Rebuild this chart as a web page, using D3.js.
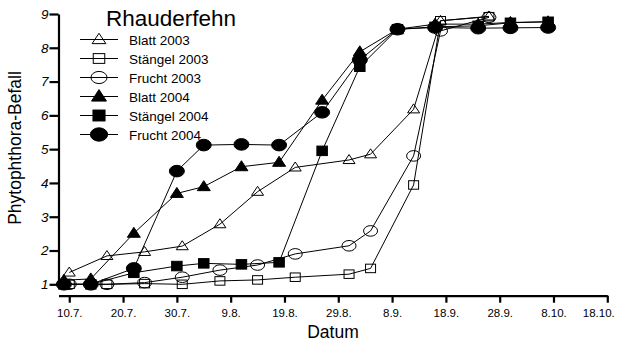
<!DOCTYPE html>
<html>
<head>
<meta charset="utf-8">
<script src="https://cdn.jsdelivr.net/npm/d3@7/dist/d3.min.js"></script>
<style>
  body { margin: 0; background: #fff; }
  svg text { font-family: "Liberation Sans", Arial, sans-serif; fill: #000; }
</style>
</head>
<body>
<div id="chart"></div>
<script>
// Sampling dates (both seasons shown on one calendar)
var dates2003 = ["10.7.", "17.7.", "24.7.", "31.7.", "7.8.", "14.8.", "21.8.", "31.8.", "4.9.", "12.9.", "17.9.", "26.9."];
var dates2004 = ["9.7.", "14.7.", "22.7.", "30.7.", "4.8.", "11.8.", "18.8.", "26.8.", "2.9.", "9.9.", "16.9.", "24.9.", "30.9.", "7.10."];

var blatt2003    = [1.35, 1.84, 1.96, 2.13, 2.78, 3.74, 4.46, 4.68, 4.85, 6.18, 8.80, 8.93];
var staengel2003 = [1.00, 1.00, 1.02, 1.00, 1.10, 1.13, 1.21, 1.30, 1.47, 3.94, 8.80, 8.92];
var frucht2003   = [1.00, 1.00, 1.05, 1.21, 1.42, 1.57, 1.90, 2.14, 2.58, 4.80, 8.50, 8.90];

var blatt2004    = [1.12, 1.16, 2.51, 3.69, 3.89, 4.48, 4.61, 6.45, 7.88, 8.55, 8.70, 8.70, 8.75, 8.77];
var staengel2004 = [1.00, 1.00, 1.34, 1.54, 1.62, 1.59, 1.65, 4.95, 7.44, 8.55, 8.62, 8.65, 8.74, 8.77];
var frucht2004   = [1.00, 1.00, 1.47, 4.35, 5.12, 5.14, 5.12, 6.09, 7.64, 8.55, 8.60, 8.58, 8.59, 8.60];

var xTickLabels = ["10.7.", "20.7.", "30.7.", "9.8.", "19.8.", "29.8.", "8.9.", "18.9.", "28.9.", "8.10.", "18.10."];
var yTicks = [1, 2, 3, 4, 5, 6, 7, 8, 9];

var seriesNames = ["Blatt 2003", "Stängel 2003", "Frucht 2003", "Blatt 2004", "Stängel 2004", "Frucht 2004"];

var parseDay = function(s) { return d3.utcParse("%d.%m.%Y")(s + "2004"); };

var W = 617, H = 341;
var svg = d3.select("#chart").append("svg")
    .attr("width", W)
    .attr("height", H);

var xScale = d3.scaleUtc()
    .domain([parseDay("8.7."), parseDay("18.10.")])
    .range([58.5, 607.3]);

var yScale = d3.scaleLinear()
    .domain([1, 9])
    .range([284.3, 14]);

// x axis (offset below the plot)
var xAxis = d3.axisBottom(xScale)
    .tickValues(xTickLabels.map(parseDay))
    .tickFormat(function(d, i) { return xTickLabels[i]; })
    .tickSize(7)
    .tickSizeOuter(0)
    .tickPadding(6);

var gx = svg.append("g")
    .attr("transform", "translate(0," + 295.7 + ")")
    .call(xAxis);
gx.selectAll("path, line").attr("stroke", "#000").attr("stroke-width", 2.2);
gx.selectAll("text").attr("font-size", "11.5px").attr("font-family", "Liberation Sans, Arial, sans-serif");
// last label is pulled in so it stays inside the picture
gx.selectAll(".tick text").filter(function(d, i) { return i === xTickLabels.length - 1; })
    .attr("dx", -9);

var yAxis = d3.axisLeft(yScale)
    .tickValues(yTicks)
    .tickFormat(d3.format("d"))
    .tickSize(9)
    .tickSizeOuter(0)
    .tickPadding(1);

var gy = svg.append("g")
    .attr("transform", "translate(58.5,0)")
    .call(yAxis);
gy.selectAll("path, line").attr("stroke", "#000").attr("stroke-width", 2.2);
gy.selectAll("text").attr("font-size", "13.5px").attr("font-style", "italic")
    .attr("font-family", "Liberation Sans, Arial, sans-serif");

// axis titles
svg.append("text")
    .attr("x", 333)
    .attr("y", 338)
    .attr("text-anchor", "middle")
    .attr("font-size", "17.5px")
    .text("Datum");

svg.append("text")
    .attr("transform", "translate(21,148) rotate(-90)")
    .attr("text-anchor", "middle")
    .attr("font-size", "17.5px")
    .text("Phytophthora-Befall");

// marker drawing
function drawMarker(g, shape, filled, cx, cy, k) {
    k = k || 1;
    var fill = filled ? "#000" : "none";
    if (shape === "tri") {
        var w = (filled ? 6.5 : 6) * k, h = (filled ? 10 : 9) * k;
        g.append("path")
            .attr("d", "M" + cx + "," + (cy - h * 0.6) + "L" + (cx + w) + "," + (cy + h * 0.4) +
                  "L" + (cx - w) + "," + (cy + h * 0.4) + "Z")
            .attr("fill", fill).attr("stroke", "#000").attr("stroke-width", 1);
    } else if (shape === "sq") {
        var sw = (filled ? 10.5 : 10) * k, sh = (filled ? 9.5 : 8.5) * k;
        g.append("rect")
            .attr("x", cx - sw / 2).attr("y", cy - sh / 2)
            .attr("width", sw).attr("height", sh)
            .attr("fill", fill).attr("stroke", "#000").attr("stroke-width", 1);
    } else {
        g.append("ellipse")
            .attr("cx", cx).attr("cy", cy)
            .attr("rx", (filled ? 7.5 : 7) * k).attr("ry", (filled ? 5.8 : 5.3) * k)
            .attr("fill", fill).attr("stroke", "#000").attr("stroke-width", 1);
    }
}

var series = [
    { name: seriesNames[0], dates: dates2003, vals: blatt2003, shape: "tri", filled: false },
    { name: seriesNames[1], dates: dates2003, vals: staengel2003, shape: "sq", filled: false },
    { name: seriesNames[2], dates: dates2003, vals: frucht2003, shape: "circ", filled: false },
    { name: seriesNames[3], dates: dates2004, vals: blatt2004, shape: "tri", filled: true },
    { name: seriesNames[4], dates: dates2004, vals: staengel2004, shape: "sq", filled: true },
    { name: seriesNames[5], dates: dates2004, vals: frucht2004, shape: "circ", filled: true }
];

var line = d3.line()
    .x(function(p) { return xScale(parseDay(p[0])); })
    .y(function(p) { return yScale(p[1]); });

var plot = svg.append("g").attr("class", "plot");

series.forEach(function(s) {
    var pts = d3.zip(s.dates, s.vals);
    var g = plot.append("g");
    g.append("path")
        .attr("d", line(pts))
        .attr("fill", "none")
        .attr("stroke", "#000")
        .attr("stroke-width", 1);
    pts.forEach(function(p) {
        drawMarker(g, s.shape, s.filled, xScale(parseDay(p[0])), yScale(p[1]));
    });
});

// legend
svg.append("text")
    .attr("x", 106)
    .attr("y", 26)
    .attr("font-size", "22.5px")
    .text("Rhauderfehn");

var legend = svg.append("g").attr("class", "legend");
series.forEach(function(s, i) {
    var ly = 39.5 + i * 19;
    var g = legend.append("g");
    g.append("line")
        .attr("x1", 80).attr("x2", 118)
        .attr("y1", ly).attr("y2", ly)
        .attr("stroke", "#000").attr("stroke-width", 1);
    drawMarker(g, s.shape, s.filled, 99, ly, 1.15);
    g.append("text")
        .attr("x", 129)
        .attr("y", ly + 5)
        .attr("font-size", "13.5px")
        .text(s.name);
});
</script>
</body>
</html>
